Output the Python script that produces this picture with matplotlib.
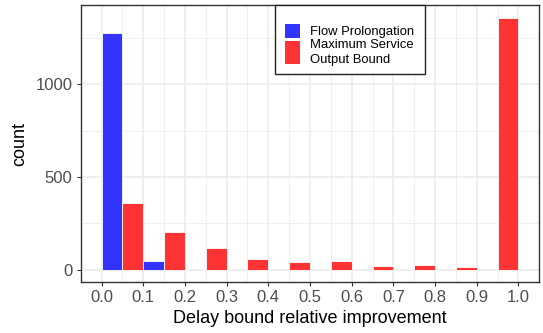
import numpy as np
import matplotlib.pyplot as plt
from matplotlib.patches import Rectangle

plt.rcParams['font.family'] = ['Liberation Sans', 'DejaVu Sans']

# histogram bins of width 0.1, two methods side by side in each bin
bin_left = [0.0, 0.1, 0.2, 0.3, 0.4, 0.5, 0.6, 0.7, 0.8, 0.9]
flow_prolongation = [1274, 49, 0, 0, 0, 0, 0, 0, 0, 0]
max_service_output = [358, 205, 119, 59, 39, 45, 18, 23, 12, 1358]
x_ticks = [0.0, 0.1, 0.2, 0.3, 0.4, 0.5, 0.6, 0.7, 0.8, 0.9, 1.0]
y_ticks = [0, 500, 1000]

blue = '#3333ff'
red = '#ff3333'
grid_col = '#ebebeb'
text_col = '#4d4d4d'

W, H = 543, 333
fig = plt.figure(figsize=(W / 100, H / 100), dpi=100)
ax = fig.add_axes([80.7 / W, 1 - 282.3 / H, (539.3 - 80.7) / W, (282.3 - 5.1) / H])

left = np.array(bin_left)
w = 0.05
for xl, h in zip(left, flow_prolongation):
    if h > 0:
        ax.bar(xl, h, width=w, align='edge', color=blue, edgecolor='white', linewidth=0.6, zorder=3)
for xl, h in zip(left + w, max_service_output):
    if h > 0:
        ax.bar(xl, h, width=w, align='edge', color=red, edgecolor='white', linewidth=0.6, zorder=3)

# ggplot-like 5% expansion
ymax = max(max(flow_prolongation), max(max_service_output))
ax.set_xlim(-0.05, 1.05)
ax.set_ylim(-0.05 * ymax, 1.05 * ymax)
ax.set_xticks(x_ticks)
ax.set_xticklabels([f'{v:.1f}' for v in x_ticks])
ax.set_yticks(y_ticks)
ax.set_xticks(np.arange(-0.05, 1.06, 0.1), minor=True)
ax.set_yticks([250, 750, 1250], minor=True)
ax.grid(True, which='major', color=grid_col, linewidth=1.1, zorder=0)
ax.grid(True, which='minor', color=grid_col, linewidth=0.55, zorder=0)
ax.set_axisbelow(True)
ax.tick_params(which='major', length=2.9, width=0.8, color='#333333', labelsize=12, labelcolor=text_col, pad=3)
ax.tick_params(which='minor', length=0)
for s in ax.spines.values():
    s.set_color('#333333')
    s.set_linewidth(1.0)

ax.set_xlabel('Delay bound relative improvement', fontsize=13, labelpad=3)
ax.set_ylabel('count', fontsize=13, labelpad=5)

# legend box drawn in figure pixels
def px(x, y):
    return x / W, 1 - y / H

lx0, ly0 = px(275, 74)
lx1, ly1 = px(425, 5)
fig.patches.append(Rectangle((lx0, ly0), lx1 - lx0, ly1 - ly0, transform=fig.transFigure,
                             facecolor='white', edgecolor='#222222', linewidth=1.0, zorder=5))
kx, ky = px(285, 38)
fig.patches.append(Rectangle((kx, ky), 15 / W, 14 / H, transform=fig.transFigure,
                             facecolor=blue, edgecolor='none', zorder=6))
kx, ky = px(285, 64.3)
fig.patches.append(Rectangle((kx, ky), 15 / W, 23.6 / H, transform=fig.transFigure,
                             facecolor=red, edgecolor='none', zorder=6))
for label, yc in [('Flow Prolongation', 31.5), ('Maximum Service', 45.5), ('Output Bound', 60)]:
    tx, ty = px(310, yc)
    fig.text(tx, ty, label, fontsize=9.4, va='center', zorder=7)

fig.savefig('out.png', dpi=100)
